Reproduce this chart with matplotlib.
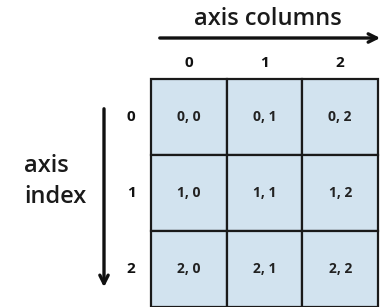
import matplotlib.pyplot as plt
from matplotlib.patches import Rectangle
import numpy as np

# etiquetas de filas y columnas
filas = ['0', '1', '2']
columnas = ['0', '1', '2']
celdas = [['0, 0', '0, 1', '0, 2'],
          ['1, 0', '1, 1', '1, 2'],
          ['2, 0', '2, 1', '2, 2']]

W, H = 387, 307
fig = plt.figure(figsize=(W / 100, H / 100), dpi=100)
ax = fig.add_axes([0, 0, 1, 1])
ax.set_xlim(0, W)
ax.set_ylim(H, 0)
ax.axis('off')

# geometria de la grilla (pixeles)
x0, y0 = 151, 79
cw, ch = 75.7, 76

celeste = '#d2e3ef'
for i, fila in enumerate(filas):
    for j, col in enumerate(columnas):
        ax.add_patch(Rectangle((x0 + j * cw, y0 + i * ch), cw, ch,
                               facecolor=celeste, edgecolor='#1a1a1a', lw=1.6))
        ax.text(x0 + (j + 0.5) * cw, y0 + (i + 0.5) * ch, celdas[i][j],
                ha='center', va='center', fontsize=10, fontweight='bold',
                color='#222222', family='Open Sans')

for j, col in enumerate(columnas):
    ax.text(x0 + (j + 0.5) * cw, 63, col, ha='center', va='center',
            fontsize=11, fontweight='bold', color='#111111', family='Open Sans')
for i, fila in enumerate(filas):
    ax.text(131, y0 + (i + 0.5) * ch, fila, ha='center', va='center',
            fontsize=11, fontweight='bold', color='#111111', family='Open Sans')

# flechas
ax.annotate('', xy=(383, 38), xytext=(157, 38),
            arrowprops=dict(arrowstyle='->,head_length=0.6,head_width=0.3',
                            lw=2.4, color='#111111'))
ax.annotate('', xy=(104, 290), xytext=(104, 106),
            arrowprops=dict(arrowstyle='->,head_length=0.6,head_width=0.3',
                            lw=2.4, color='#111111'))

ax.text(268, 19, 'axis columns', ha='center', va='center', fontsize=17,
        fontweight='semibold', color='#1a1a1a', family='Open Sans')
ax.text(24, 166, 'axis', ha='left', va='center', fontsize=17,
        fontweight='semibold', color='#1a1a1a', family='Open Sans')
ax.text(24, 197, 'index', ha='left', va='center', fontsize=17,
        fontweight='semibold', color='#1a1a1a', family='Open Sans')

plt.savefig('out.png', dpi=100)
